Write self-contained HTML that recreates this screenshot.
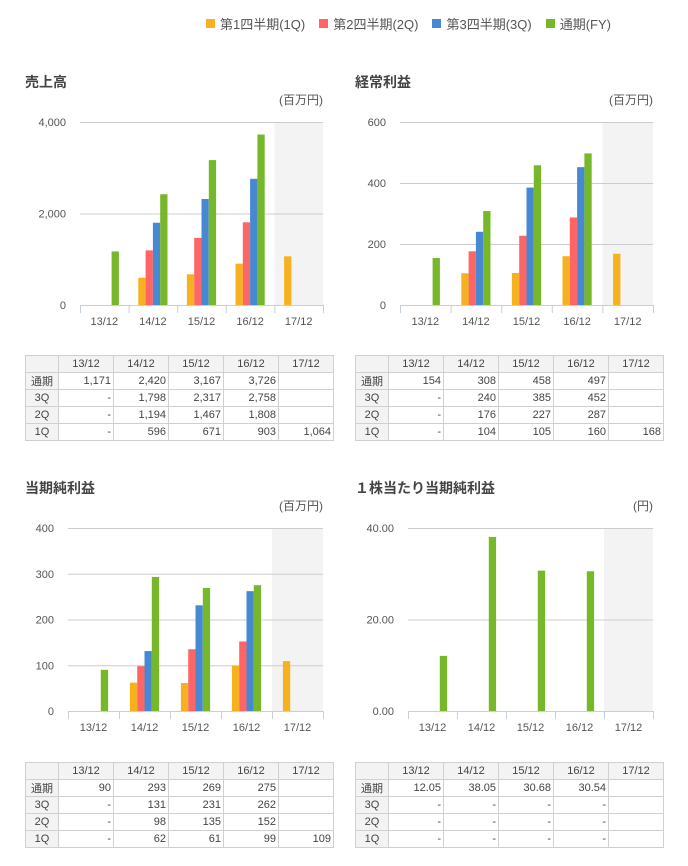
<!DOCTYPE html>
<html><head><meta charset="utf-8">
<style>
body{margin:0;width:688px;height:866px;background:#fff;font-family:"Liberation Sans","Noto Sans CJK JP",sans-serif;color:#555;position:relative;overflow:hidden}
.abs{position:absolute}
.title{font-size:14px;font-weight:bold;color:#444}
.unit{font-size:12px;color:#555;text-align:right}
table{position:absolute;border-collapse:collapse;font-size:11px;color:#444;table-layout:fixed;width:309px}
td{border:1px solid #d0d0d0;height:17px;padding:0 2px;text-align:right;overflow:hidden;white-space:nowrap;box-sizing:border-box}
tr:first-child td{background:#f3f3f3;text-align:center}
td:first-child{background:#f3f3f3;text-align:center}
.legend{position:absolute;top:14px;left:206px;font-size:13px;display:flex;gap:14px}
.legend span{display:inline-flex;align-items:center}
.legend i{display:inline-block;width:9px;height:9px;margin-right:5px}
</style></head><body>
<div class="legend">
<span><i style="background:#f5b120"></i>第1四半期(1Q)</span>
<span><i style="background:#fe6666"></i>第2四半期(2Q)</span>
<span><i style="background:#4689d2"></i>第3四半期(3Q)</span>
<span><i style="background:#76b82a"></i>通期(FY)</span>
</div>
<div id="root"></div>
<script>
const categories=["13/12","14/12","15/12","16/12","17/12"];
const sales1Q=[null,596,671,903,1064];
const sales2Q=[null,1194,1467,1808,null];
const sales3Q=[null,1798,2317,2758,null];
const salesFY=[1171,2420,3167,3726,null];
const salesTicks=["0","2,000","4,000"];
const ord1Q=[null,104,105,160,168];
const ord2Q=[null,176,227,287,null];
const ord3Q=[null,240,385,452,null];
const ordFY=[154,308,458,497,null];
const ordTicks=["0","200","400","600"];
const net1Q=[null,62,61,99,109];
const net2Q=[null,98,135,152,null];
const net3Q=[null,131,231,262,null];
const netFY=[90,293,269,275,null];
const netTicks=["0","100","200","300","400"];
const eps1Q=[null,null,null,null,null];
const eps2Q=[null,null,null,null,null];
const eps3Q=[null,null,null,null,null];
const epsFY=[12.05,38.05,30.68,30.54,null];
const epsTicks=["0.00","20.00","40.00"];
const colors=["#f5b120","#fe6666","#4689d2","#76b82a"];
const root=document.getElementById('root');
const NS="http://www.w3.org/2000/svg";
function fmt(v,dec){if(v==null)return null;return dec?v.toFixed(2):v.toLocaleString('en-US');}
function chart(key,title,unit,series,ticks,maxV,box,tbl,dec){
  const t=document.createElement('div');t.className='abs title';t.textContent=title;
  t.style.left=box.tx+'px';t.style.top=box.ty+'px';
  
  
  root.appendChild(t);
  const u=document.createElement('div');u.className='abs unit';u.textContent=unit;
  u.style.left=(box.r-100)+'px';u.style.width='100px';u.style.top=(box.ty+19)+'px';
  
  
  root.appendChild(u);
  const svg=document.createElementNS(NS,'svg');
  svg.setAttribute('width','688');svg.setAttribute('height','866');
  svg.style.position='absolute';svg.style.left='0';svg.style.top='0';
  
  
  root.appendChild(svg);
  const L=box.l,R=box.r,T=box.t,B=box.b,n=categories.length,gw=(R-L)/n;
  const y=v=>B-(v/maxV)*(B-T);
  const x=i=>L+i*gw;
  function el(tag,a){const e=document.createElementNS(NS,tag);for(const k in a)e.setAttribute(k,a[k]);svg.appendChild(e);return e;}
  const sh=el('rect',{x:x(n-1),y:T,width:gw,height:B-T,fill:'#f3f3f3'});
  
  
  ticks.forEach((tk,i)=>{const v=maxV*i/(ticks.length-1);const yy=y(v);
    if(i>0){const g=el('line',{x1:L,x2:R,y1:yy+0.5,y2:yy+0.5,stroke:'#ccc'});
      
      }
    const tx=el('text',{x:L-14,y:yy+4,'text-anchor':'end','font-size':'11',fill:'#555'});tx.textContent=tk;
    
    
  });
  const ax=el('line',{x1:L,x2:R,y1:B+0.5,y2:B+0.5,stroke:'#c5d0de'});
  
  
  for(let i=0;i<=n;i++){const tk=el('line',{x1:x(i)+0.5,x2:x(i)+0.5,y1:B,y2:B+8,stroke:'#c5d0de'});
    
    }
  const bw=7.3;
  categories.forEach((c,i)=>{
    const lb=el('text',{x:x(i)+gw/2,y:B+20,'text-anchor':'middle','font-size':'11',fill:'#555'});lb.textContent=c;
    
    
    const cx=x(i)+gw/2;
    series.forEach((s,j)=>{const v=s[i];if(v==null)return;
      const r=el('rect',{x:cx-2*bw+j*bw,y:y(v),width:bw,height:B-y(v),fill:colors[j]});
      
      
    });
  });
  const tb=document.createElement('table');tb.style.left=tbl.l+'px';tb.style.top=tbl.t+'px';
  
  
  let h='<colgroup><col style="width:33px">'+categories.map(()=>'<col style="width:55px">').join('')+'</colgroup>';
  h+='<tr><td></td>'+categories.map(c=>'<td>'+c+'</td>').join('')+'</tr>';
  const rows=[['通期',series[3]],['3Q',series[2]],['2Q',series[1]],['1Q',series[0]]];
  rows.forEach(([nm,s])=>{h+='<tr><td>'+nm+'</td>'+s.map((v,i)=>{const f=fmt(v,dec);return '<td>'+(f==null?(i<4?'-':''):f)+'</td>';}).join('')+'</tr>';});
  tb.innerHTML=h;root.appendChild(tb);
}
chart('sales','売上高','(百万円)',[sales1Q,sales2Q,sales3Q,salesFY],salesTicks,4000,{tx:25,ty:72,l:80,r:323,t:122,b:305},{l:25,t:355},false);
chart('ordinary-income','経常利益','(百万円)',[ord1Q,ord2Q,ord3Q,ordFY],ordTicks,600,{tx:355,ty:72,l:400,r:653,t:122,b:305},{l:355,t:355},false);
chart('net-income','当期純利益','(百万円)',[net1Q,net2Q,net3Q,netFY],netTicks,400,{tx:25,ty:478,l:68,r:323,t:528,b:711},{l:25,t:762},false);
chart('eps','１株当たり当期純利益','(円)',[eps1Q,eps2Q,eps3Q,epsFY],epsTicks,40,{tx:355,ty:478,l:408,r:653,t:528,b:711},{l:355,t:762},true);
</script>
</body></html>
